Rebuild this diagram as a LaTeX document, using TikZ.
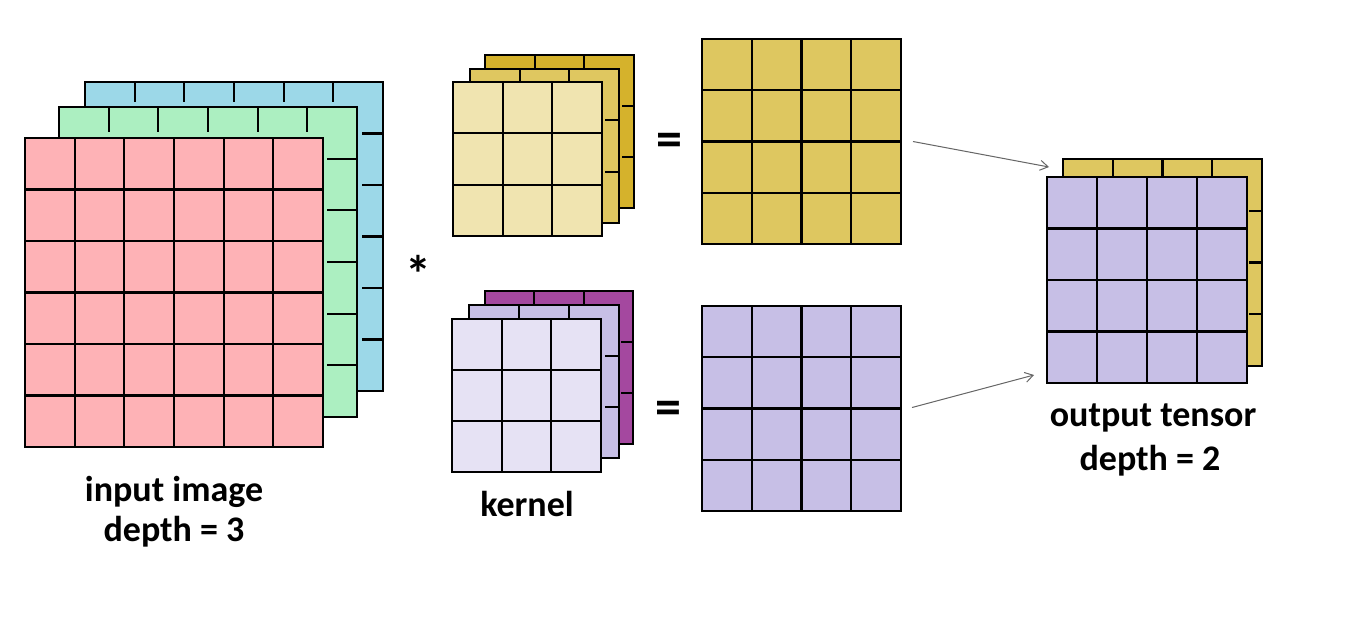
\documentclass[tikz,border=0pt]{standalone}
\usepackage{fontspec}
\setmainfont{Carlito}
\usetikzlibrary{calc,fit,arrows.meta}
\definecolor{inred}{RGB}{254,178,182}
\definecolor{ingreen}{RGB}{172,239,193}
\definecolor{inblue}{RGB}{156,216,232}
\definecolor{outyellow}{RGB}{222,199,96}
\definecolor{kyback}{RGB}{213,178,44}
\definecolor{kymid}{RGB}{223,199,96}
\definecolor{kyfront}{RGB}{240,228,176}
\definecolor{outpurple}{RGB}{199,191,230}
\definecolor{kpback}{RGB}{164,72,159}
\definecolor{kpmid}{RGB}{199,191,230}
\definecolor{kpfront}{RGB}{230,226,244}
\tikzset{
  layer/.style={draw=black, line width=1.3pt, inner sep=0pt, outer sep=0pt, rectangle},
  gridline/.style={draw=black, line width=1.15pt},
  lbl/.style={font=\fontsize{18}{20}\selectfont\bfseries, inner sep=0pt},
  op/.style={font=\fontsize{26}{28}\selectfont\bfseries, inner sep=0pt},
  flow/.style={draw=black!60, line width=0.5pt, -{Straight Barb[length=4pt,width=5pt]}},
}
% #1 name, #2 fill, #3 x1, #4 y1, #5 x2, #6 y2, #7 cols, #8 rows
\newcommand\frontgrid[8]{%
  \node[layer, fill=#2, fit={(#3,#4) (#5,#6)}] (#1) {};
  \pgfmathtruncatemacro\gridNc{#7-1}%
  \foreach \k in {1,...,\gridNc}
    \draw[gridline] ($(#1.north west)!\k/#7!(#1.north east)$) -- ($(#1.south west)!\k/#7!(#1.south east)$);
  \pgfmathtruncatemacro\gridNr{#8-1}%
  \foreach \k in {1,...,\gridNr}
    \draw[gridline] ($(#1.north west)!\k/#8!(#1.south west)$) -- ($(#1.north east)!\k/#8!(#1.south east)$);
  \draw[layer] (#1.north west) rectangle (#1.south east);
}
% #1 name, #2 fill, #3 x1, #4 y1, #5 x2, #6 y2, #7 n, #8 top tick length, #9 right tick length
\newcommand\backgrid[9]{%
  \node[layer, fill=#2, fit={(#3,#4) (#5,#6)}] (#1) {};
  \pgfmathtruncatemacro\gridNc{#7-1}%
  \foreach \k in {1,...,\gridNc}{
    \draw[gridline] ($(#1.north west)!\k/#7!(#1.north east)$) -- ++(0,#8);
    \draw[gridline] ($(#1.north east)!\k/#7!(#1.south east)$) -- ++(-#9,0);
  }
}
\begin{document}
\begin{tikzpicture}[x=0.5pt,y=-0.5pt]
\useasboundingbox[fill=white] (0,0) rectangle (1348,618);
% input image
\backgrid{inB}{inblue}{85}{82}{383}{391}{6}{20}{21}
\backgrid{inG}{ingreen}{59}{107}{357}{417}{6}{25}{30}
\frontgrid{inR}{inred}{25}{138}{323}{447}{6}{6}
% kernel (yellow)
\backgrid{kY3}{kyback}{485}{55}{634}{208}{3}{13}{12}
\backgrid{kY2}{kymid}{470}{69}{619}{223}{3}{13}{14}
\frontgrid{kY1}{kyfront}{453}{82}{602}{236}{3}{3}
% kernel (purple)
\backgrid{kP3}{kpback}{485}{291}{633}{444}{3}{13}{12}
\backgrid{kP2}{kpmid}{469}{305}{619}{458}{3}{13}{14}
\frontgrid{kP1}{kpfront}{452}{319}{601}{472}{3}{3}
% outputs
\frontgrid{oY}{outyellow}{702}{39}{901}{244}{4}{4}
\frontgrid{oP}{outpurple}{702}{306}{901}{511}{4}{4}
% output tensor
\backgrid{tY}{outyellow}{1063}{159}{1262}{366}{4}{18}{13}
\frontgrid{tP}{outpurple}{1047}{177}{1247}{383}{4}{4}
% operators
\node[op] (star) at (418,274) {*};
\node[op] (eq1) at (669,145) {=};
\node[op] (eq2) at (668,413) {=};
% arrows
\coordinate (a1s) at ($(oY.east)+(12,0)$);
\coordinate (a1e) at ($(tP.north west)+(2,-10)$);
\coordinate (a2s) at ($(oP.east)+(11,-1)$);
\coordinate (a2e) at ($(tP.south west)+(-13,-8)$);
\draw[flow] (a1s) -- (a1e);
\draw[flow] (a2s) -- (a2e);
% labels
\node[lbl, anchor=base] (lin1) at (174,501) {input image};
\node[lbl, anchor=base] (lin2) at (174,541) {depth = 3};
\node[lbl, anchor=base] (lker) at (527,516) {kernel};
\node[lbl, anchor=base] (lout1) at (1153,426) {output tensor};
\node[lbl, anchor=base] (lout2) at (1150,470) {depth = 2};
\end{tikzpicture}
\end{document}
